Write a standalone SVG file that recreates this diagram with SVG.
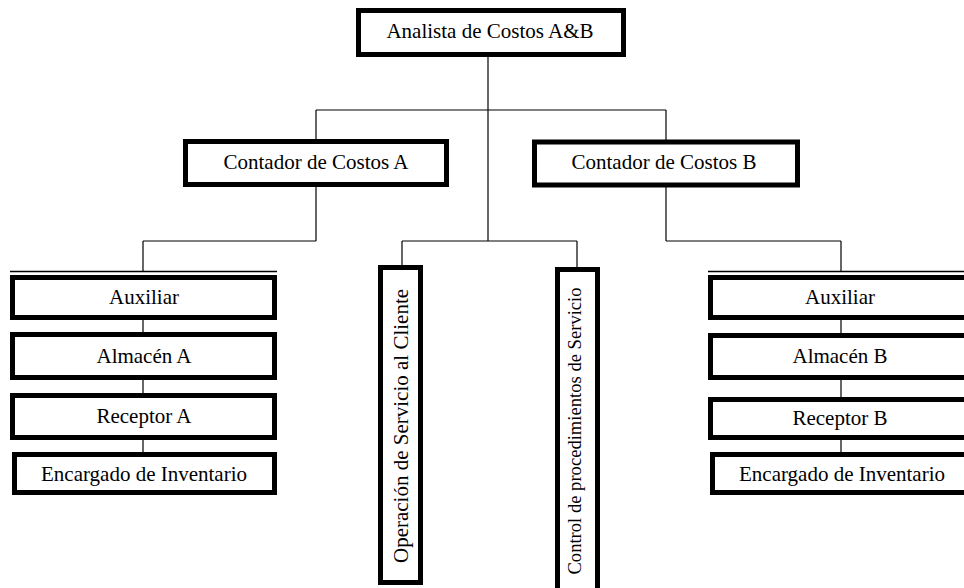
<svg xmlns="http://www.w3.org/2000/svg" width="964" height="588" viewBox="0 0 964 588">
<style>
.box{fill:#fff;stroke:#000;stroke-width:5}
.thin{fill:none;stroke:#000;stroke-width:1.5}
.t{font-size:21px;fill:#000;text-anchor:middle}
.conn line{stroke:#000;stroke-width:1.2}
</style>
<rect width="964" height="588" fill="#fff"/>
<g class="conn">
<line x1="488" y1="57" x2="488" y2="241"/>
<line x1="316" y1="110" x2="666" y2="110"/>
<line x1="316" y1="110" x2="316" y2="140"/>
<line x1="666" y1="110" x2="666" y2="140"/>
<line x1="316" y1="186" x2="316" y2="241"/>
<line x1="143" y1="241" x2="316" y2="241"/>
<line x1="143" y1="241" x2="143" y2="272"/>
<line x1="666" y1="186" x2="666" y2="241"/>
<line x1="666" y1="241" x2="841" y2="241"/>
<line x1="841" y1="241" x2="841" y2="272"/>
<line x1="402" y1="241" x2="577" y2="241"/>
<line x1="402" y1="241" x2="402" y2="266"/>
<line x1="577" y1="241" x2="577" y2="268"/>
<line x1="143" y1="320" x2="143" y2="333"/>
<line x1="143" y1="380" x2="143" y2="394"/>
<line x1="143" y1="440" x2="143" y2="453"/>
<line x1="841" y1="320" x2="841" y2="334"/>
<line x1="841" y1="380" x2="841" y2="397"/>
<line x1="841" y1="440" x2="841" y2="453"/>
</g>
<g font-family="'Liberation Serif', 'Times New Roman', 'DejaVu Serif', 'Noto Serif', serif">
<g id="root"><rect class="box" x="358.5" y="10.5" width="265" height="44"/><text class="t" x="490" y="38">Analista de Costos A&amp;B</text></g>
<g id="contadorA"><rect class="box" x="185.5" y="141.5" width="261" height="43"/><text class="t" x="316" y="169">Contador de Costos A</text></g>
<g id="contadorB"><rect class="box" x="534.5" y="142" width="263" height="43"/><text class="t" x="664" y="169">Contador de Costos B</text></g>
<g id="auxiliarA"><line class="thin" x1="10" y1="271.5" x2="277" y2="271.5"/><rect class="box" x="12.5" y="277.5" width="262" height="40"/><text class="t" x="144" y="304">Auxiliar</text></g>
<g id="almacenA"><rect class="box" x="12.5" y="334.5" width="262" height="43"/><text class="t" x="144" y="363">Almacén A</text></g>
<g id="receptorA"><rect class="box" x="12.5" y="395.5" width="262" height="42"/><text class="t" x="144" y="423">Receptor A</text></g>
<g id="encargadoA"><rect class="box" x="14.5" y="454.5" width="260" height="38"/><text class="t" x="144" y="481">Encargado de Inventario</text></g>
<g id="operacion"><rect class="box" x="380.5" y="267.5" width="40" height="315"/><text class="t" transform="translate(408,426) rotate(-90)">Operación de Servicio al Cliente</text></g>
<g id="control"><rect class="box" x="557.5" y="269.5" width="40" height="330"/><text class="t" style="font-size:18.6px" transform="translate(581,431) rotate(-90)">Control de procedimientos de Servicio</text></g>
<g id="auxiliarB"><line class="thin" x1="708" y1="271.5" x2="975" y2="271.5"/><rect class="box" x="710.5" y="277.5" width="262" height="40"/><text class="t" x="840" y="304">Auxiliar</text></g>
<g id="almacenB"><rect class="box" x="710.5" y="335.5" width="262" height="42"/><text class="t" x="840" y="363">Almacén B</text></g>
<g id="receptorB"><rect class="box" x="710.5" y="399.5" width="262" height="38"/><text class="t" x="840" y="425">Receptor B</text></g>
<g id="encargadoB"><rect class="box" x="712.5" y="454.5" width="260" height="38"/><text class="t" x="842" y="481">Encargado de Inventario</text></g>
</g>
</svg>
